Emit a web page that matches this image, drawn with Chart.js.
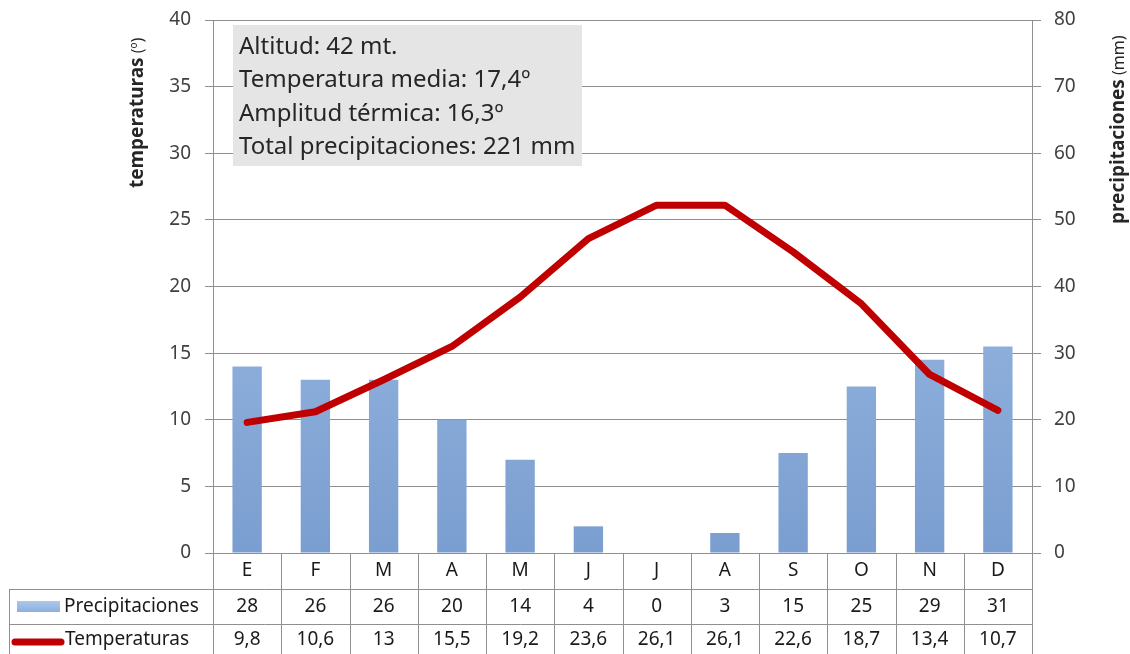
<!DOCTYPE html>
<html>
<head>
<meta charset="utf-8">
<script src="https://cdn.jsdelivr.net/npm/chart.js@4"></script>
<style>
  html, body { margin: 0; padding: 0; background: #fff; }
  #wrap { width: 1130px; height: 654px; position: relative; }
</style>
</head>
<body>
<div id="wrap"><canvas id="chart"></canvas></div>
<script>
// chart data
const months = ['E', 'F', 'M', 'A', 'M', 'J', 'J', 'A', 'S', 'O', 'N', 'D'];
const precipitaciones = [28, 26, 26, 20, 14, 4, 0, 3, 15, 25, 29, 31];
const temperaturas = [9.8, 10.6, 13, 15.5, 19.2, 23.6, 26.1, 26.1, 22.6, 18.7, 13.4, 10.7];
const infoLines = [
  'Altitud: 42 mt.',
  'Temperatura media: 17,4º',
  'Amplitud térmica: 16,3º',
  'Total precipitaciones: 221 mm',
];

const FONT = '"Noto Sans", sans-serif';
const GRID = '#8f8f8f';
const TEXT = '#404040';

// format with comma decimals like the source sheet
const fmt = v => String(v).replace('.', ',');

const barGradient = (ctx) => {
  const { chart } = ctx;
  const area = chart.chartArea;
  if (!area) return '#95b3d7';
  const g = chart.ctx.createLinearGradient(0, area.top, 0, area.bottom);
  g.addColorStop(0, 'rgb(172, 200, 236)');
  g.addColorStop(1, 'rgb(122, 158, 208)');
  return g;
};

// fixed axis widths, no extra label padding so the plot sits where the original does
const fitAxis = width => s => {
  s.width = width;
  s.paddingTop = 0;
  s.paddingBottom = 0;
};

// grey info box, rotated axis titles and the data table under the plot
const extrasPlugin = {
  id: 'extras',
  afterDraw(chart) {
    const { ctx, chartArea } = chart;
    const x = chart.scales.x;
    ctx.save();

    // info box
    ctx.fillStyle = '#e5e5e5';
    ctx.fillRect(233, 25, 349, 141);
    ctx.fillStyle = '#262626';
    ctx.font = '24px ' + FONT;
    ctx.textBaseline = 'middle';
    ctx.textAlign = 'left';
    infoLines.forEach((t, i) => ctx.fillText(t, 239, 47 + i * 33.5));

    // axis titles
    const drawTitle = (cx, startY, bold, small) => {
      ctx.save();
      ctx.translate(cx, startY);
      ctx.rotate(-Math.PI / 2);
      ctx.textAlign = 'left';
      ctx.textBaseline = 'middle';
      ctx.fillStyle = '#262626';
      ctx.font = 'bold 19px ' + FONT;
      ctx.fillText(bold, 0, 0);
      const w = ctx.measureText(bold).width;
      ctx.font = '16px ' + FONT;
      ctx.fillText(' ' + small, w, 0);
      ctx.restore();
    };
    drawTitle(138, 188, 'temperaturas', '(º)');
    drawTitle(1119, 224, 'precipitaciones', '(mm)');

    // data table
    const step = x.getPixelForValue(1) - x.getPixelForValue(0);
    const top = chartArea.bottom;
    const rows = [top, top + 36, top + 71, top + 106];
    const left = 9;
    ctx.strokeStyle = GRID;
    ctx.lineWidth = 1;
    ctx.beginPath();
    // horizontal lines
    ctx.moveTo(left, rows[1] + 0.5); ctx.lineTo(chartArea.right, rows[1] + 0.5);
    ctx.moveTo(left, rows[2] + 0.5); ctx.lineTo(chartArea.right, rows[2] + 0.5);
    // left column border
    ctx.moveTo(left + 0.5, rows[1]); ctx.lineTo(left + 0.5, rows[3]);
    // column separators
    for (let i = 0; i <= months.length; i++) {
      const px = Math.round(chartArea.left + i * step) + 0.5;
      ctx.moveTo(px, top); ctx.lineTo(px, rows[3]);
    }
    ctx.stroke();

    ctx.fillStyle = '#1a1a1a';
    ctx.font = '19px ' + FONT;
    ctx.textAlign = 'center';
    ctx.textBaseline = 'middle';
    months.forEach((m, i) => {
      const cx = x.getPixelForValue(i);
      ctx.fillText(m, cx, (rows[0] + rows[1]) / 2);
      ctx.fillText(fmt(precipitaciones[i]), cx, (rows[1] + rows[2]) / 2);
      ctx.fillText(fmt(temperaturas[i]), cx, (rows[2] + rows[3]) / 2 - 2);
    });

    // legend keys
    const kg = ctx.createLinearGradient(0, 601, 0, 612);
    kg.addColorStop(0, 'rgb(172, 200, 236)');
    kg.addColorStop(1, 'rgb(140, 176, 222)');
    ctx.fillStyle = kg;
    ctx.fillRect(17, 601, 43, 11);
    ctx.strokeStyle = '#c00000';
    ctx.lineWidth = 7;
    ctx.lineCap = 'round';
    ctx.beginPath();
    ctx.moveTo(15, 642); ctx.lineTo(61, 642);
    ctx.stroke();

    ctx.fillStyle = '#1a1a1a';
    ctx.textAlign = 'left';
    ctx.fillText('Precipitaciones', 64, (rows[1] + rows[2]) / 2);
    ctx.fillText('Temperaturas', 65, (rows[2] + rows[3]) / 2 - 2);

    ctx.restore();
  },
};

new Chart(document.getElementById('chart'), {
  type: 'bar',
  data: {
    labels: months,
    datasets: [
      {
        type: 'line',
        label: 'Temperaturas',
        data: temperaturas,
        yAxisID: 'yT',
        borderColor: '#c00000',
        borderWidth: 7,
        borderCapStyle: 'round',
        borderJoinStyle: 'round',
        pointRadius: 0,
        tension: 0,
        order: 0,
      },
      {
        label: 'Precipitaciones',
        data: precipitaciones,
        yAxisID: 'yP',
        backgroundColor: barGradient,
        categoryPercentage: 1,
        barPercentage: 0.43,
        order: 1,
      },
    ],
  },
  plugins: [extrasPlugin],
  options: {
    responsive: true,
    maintainAspectRatio: false,
    animation: false,
    devicePixelRatio: 1,
    layout: { padding: { left: 0, right: 0, top: 20, bottom: 101 } },
    plugins: { legend: { display: false }, tooltip: { enabled: false } },
    scales: {
      x: { display: false },
      yT: {
        position: 'left',
        min: 0,
        max: 40,
        afterFit: fitAxis(213),
        ticks: { stepSize: 5, padding: 14, color: TEXT, font: { family: FONT, size: 19 } },
        grid: { color: GRID, tickLength: 8 },
        border: { color: GRID },
      },
      yP: {
        position: 'right',
        min: 0,
        max: 80,
        afterFit: fitAxis(98),
        ticks: { stepSize: 10, padding: 13, color: TEXT, font: { family: FONT, size: 19 } },
        grid: { drawOnChartArea: false, color: GRID, tickLength: 9 },
        border: { color: GRID },
      },
    },
  },
});
</script>
</body>
</html>
